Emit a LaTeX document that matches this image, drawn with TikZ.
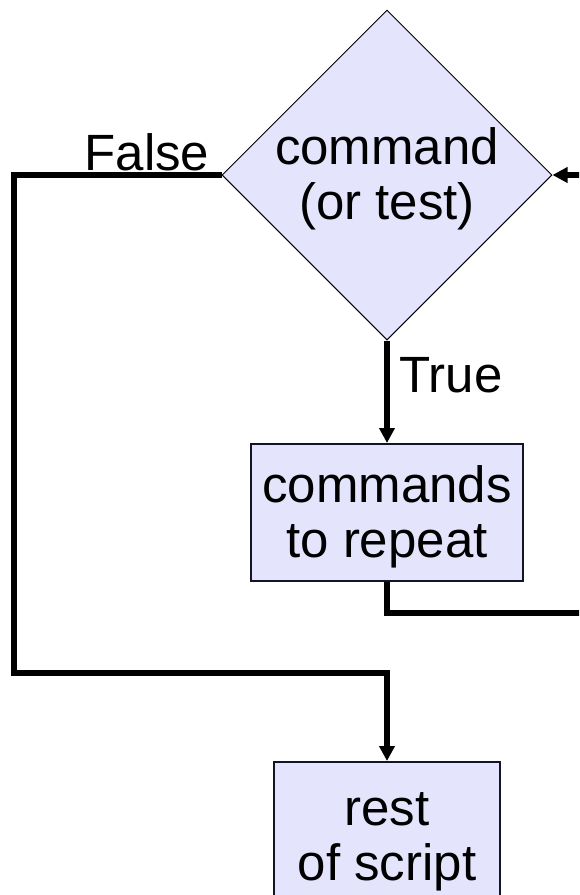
\documentclass[tikz,border=0pt]{standalone}
\usepackage{fontspec}
\setmainfont{Liberation Sans}
\usetikzlibrary{shapes.geometric,arrows.meta}
\definecolor{boxfill}{RGB}{228,228,252}
\definecolor{boxline}{RGB}{20,20,40}
\tikzset{
  bigtext/.style={font=\fontsize{51}{55}\selectfont, align=center},
  inner/.style={bigtext, inner sep=0pt, yshift=-4pt},
  decision/.style={diamond, draw=black, line width=1pt, fill=boxfill, minimum width=330pt, minimum height=330pt, inner sep=0pt},
  stepbox/.style={rectangle, draw=boxline, line width=2pt, fill=boxfill, inner sep=0pt},
  conn/.style={line width=5.5pt},
  tip/.style={-{Triangle[length=15pt,width=15pt]}},
  lbl/.style={bigtext, inner sep=0pt}
}
\begin{document}
\begin{tikzpicture}[x=1pt,y=-1pt]
\clip (0,0) rectangle (579,895);
\node[decision, label={[inner]center:command\\(or test)}] (test) at (387,175) {};
\node[stepbox, minimum width=272pt, minimum height=137pt, label={[inner]center:commands\\to repeat}] (body) at (387,512.5) {};
\node[stepbox, minimum width=226pt, minimum height=156pt, label={[inner,yshift=2pt]center:rest\\of script}] (rest) at (387,840) {};
\node[lbl] (false) at (147,152) {False};
\node[lbl] (true) at (451,375) {True};
\coordinate (loopin) at (585,175);
\coordinate (loopout) at (585,613);
\coordinate (fcorner) at (14,673);
\draw[conn,tip] (loopin) -- (test.east);
\draw[conn,tip] (test.south) -- (body.north);
\draw[conn] (body.south) |- (loopout);
\draw[conn,tip] (test.west) -| (fcorner) -| (rest.north);
\end{tikzpicture}
\end{document}
